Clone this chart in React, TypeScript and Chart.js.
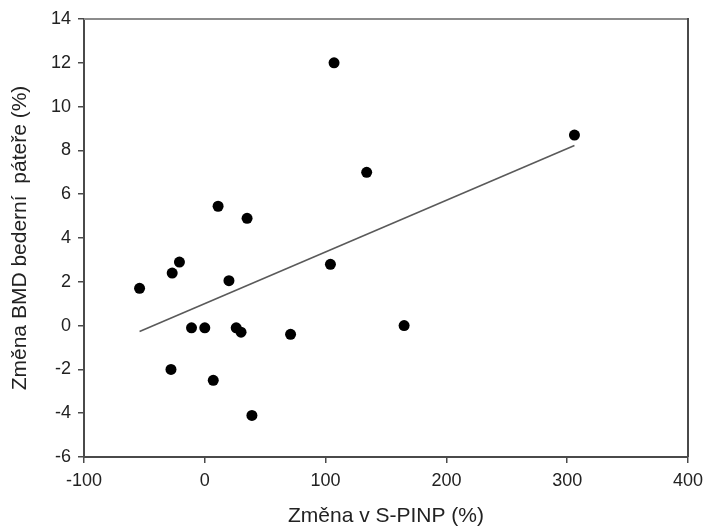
import React, { useEffect, useRef } from "react";
import { Chart, registerables } from "chart.js";

Chart.register(...registerables);

const xVals = [-54, -27, -21, -28, -11, 0, 7, 11, 20, 26, 30, 35, 39, 71, 104, 165, 107, 134, 306];
const yVals = [1.7, 2.4, 2.9, -2.0, -0.1, -0.1, -2.5, 5.45, 2.05, -0.1, -0.3, 4.9, -4.1, -0.4, 2.8, 0.0, 12.0, 7.0, 8.7];
const trendX = [-54, 306];
const trendY = [-0.27, 8.22];

const xTitle = "Změna v S-PINP (%)";
const yTitle = "Změna BMD bederní  páteře (%)";

const frame = {
  id: "frame",
  afterDraw(chart: any) {
    const { ctx, chartArea } = chart;
    ctx.save();
    ctx.lineWidth = 2;
    ctx.strokeStyle = "#8c8c8c";
    ctx.beginPath();
    ctx.moveTo(chartArea.left, chartArea.top);
    ctx.lineTo(chartArea.right, chartArea.top);
    ctx.stroke();
    ctx.strokeStyle = "#4a4a4a";
    ctx.beginPath();
    ctx.moveTo(chartArea.right, chartArea.top - 1);
    ctx.lineTo(chartArea.right, chartArea.bottom);
    ctx.stroke();
    ctx.restore();
  },
};

export default function App() {
  const ref = useRef<HTMLCanvasElement | null>(null);
  useEffect(() => {
    document.body.style.margin = "0";
    const canvas = ref.current!;
    const font = "'Liberation Sans', Arial, sans-serif";
    const chart = new Chart(canvas, {
      type: "scatter",
      data: {
        datasets: [
          {
            type: "line",
            data: trendX.map((x, i) => ({ x, y: trendY[i] })),
            borderColor: "#5a5a5a",
            borderWidth: 1.6,
            pointRadius: 0,
            fill: false,
          } as any,
          {
            data: xVals.map((x, i) => ({ x, y: yVals[i] })),
            backgroundColor: "#000",
            borderWidth: 0,
            pointRadius: 5.5,
          },
        ],
      },
      options: {
        animation: false,
        responsive: false,
        layout: { padding: { top: 19, right: 18, left: 0, bottom: 0 } },
        plugins: { legend: { display: false }, tooltip: { enabled: false } },
        scales: {
          x: {
            type: "linear",
            min: -100,
            max: 400,
            ticks: { stepSize: 100, color: "#222", font: { family: font, size: 18 }, padding: 7 },
            grid: { drawOnChartArea: false, drawTicks: true, tickLength: 6, color: "#4a4a4a", lineWidth: 1.5 },
            border: { display: true, color: "#4a4a4a", width: 2 },
            title: {
              display: true,
              text: xTitle,
              color: "#222",
              font: { family: font, size: 21, lineHeight: 1 },
              padding: { top: 0, bottom: 0 },
            },
            afterFit(scale: any) {
              scale.height = 70;
              scale.paddingLeft = 0;
              scale.paddingRight = 0;
            },
          },
          y: {
            type: "linear",
            min: -6,
            max: 14,
            ticks: { stepSize: 2, color: "#222", font: { family: font, size: 18 }, padding: 7 },
            grid: { drawOnChartArea: false, drawTicks: true, tickLength: 6, color: "#4a4a4a", lineWidth: 1.5 },
            border: { display: true, color: "#4a4a4a", width: 2 },
            title: {
              display: true,
              text: yTitle,
              color: "#222",
              font: { family: font, size: 21, lineHeight: 1 },
              padding: { top: 10, bottom: 0 },
            },
            afterFit(scale: any) {
              scale.width = 84;
              scale.paddingTop = 0;
              scale.paddingBottom = 0;
            },
          },
        },
      },
      plugins: [frame],
    });
    return () => chart.destroy();
  }, []);
  return <canvas ref={ref} width={706} height={527} />;
}
